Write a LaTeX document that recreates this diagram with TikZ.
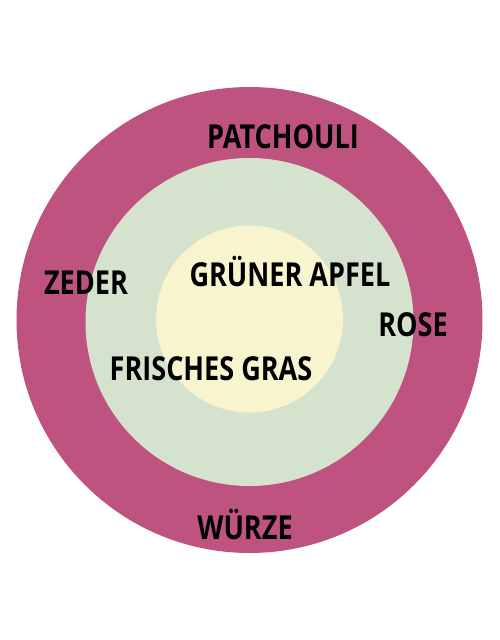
\documentclass[tikz,border=0pt]{standalone}
\usepackage{fontspec}
\setmainfont{Open Sans}[UprightFont=* Bold,FakeStretch=0.82]
\usetikzlibrary{positioning}

\definecolor{ringout}{RGB}{190,83,128}
\definecolor{ringmid}{RGB}{213,226,205}
\definecolor{ringin}{RGB}{248,245,206}

\begin{document}
\begin{tikzpicture}[x=1pt,y=-1pt,
		ring/.style={circle,draw=none,inner sep=0pt},
		scent/.style={font=\fontsize{33}{37}\selectfont,inner sep=0pt,anchor=base}
		]
		\useasboundingbox[fill=white] (0,0) rectangle (500,640);
		\node[ring,fill=ringout,minimum size=466] (outer) at (249.5,320) {};
		\node[ring,fill=ringmid,minimum size=328] (middle) at (249.5,322) {};
		\node[ring,fill=ringin,minimum size=187] (inner) at (249.5,319) {};
		
		\node[scent] (patchouli) at (283,148) {PATCHOULI};
		\node[scent] (zeder) at (86,294) {ZEDER};
		\node[scent] (apfel) at (290,286) {GRÜNER APFEL};
		\node[scent] (rose) at (413,336) {ROSE};
		\node[scent] (gras) at (211,380) {FRISCHES GRAS};
		\node[scent] (wuerze) at (245,539) {WÜRZE};
	\end{tikzpicture}
\end{document}
